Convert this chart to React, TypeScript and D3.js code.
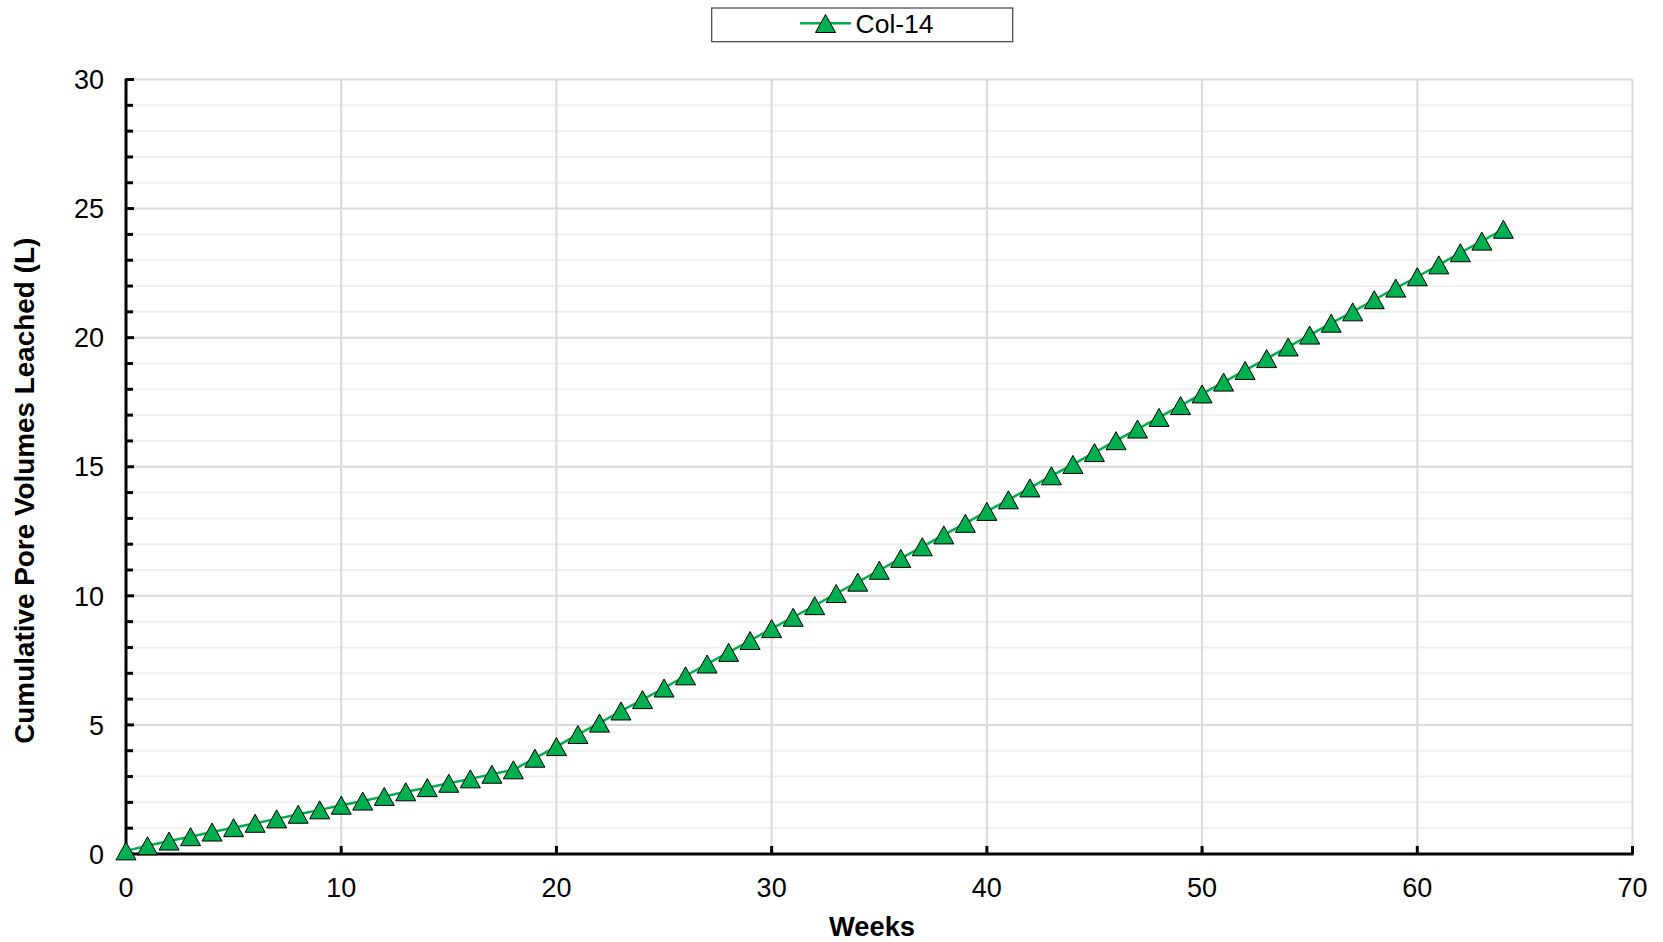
import React from "react";
import * as d3 from "d3";

const weeks: number[] = Array.from({ length: 65 }, (_, i) => i);
const col14: number[] = [
  0.12, 0.32, 0.5, 0.67, 0.85, 1.02, 1.19, 1.36, 1.54, 1.71,
  1.89, 2.05, 2.23, 2.41, 2.57, 2.74, 2.91, 3.09, 3.26, 3.71,
  4.16, 4.63, 5.07, 5.54, 5.98, 6.43, 6.9, 7.36, 7.81, 8.27,
  8.73, 9.17, 9.62, 10.09, 10.53, 10.99, 11.45, 11.9, 12.36, 12.81,
  13.27, 13.72, 14.18, 14.65, 15.09, 15.55, 16.01, 16.46, 16.91, 17.37,
  17.82, 18.28, 18.73, 19.19, 19.64, 20.1, 20.56, 21.0, 21.47, 21.92,
  22.36, 22.82, 23.29, 23.74, 24.2,
];
const xTicks: number[] = [0, 10, 20, 30, 40, 50, 60, 70];
const yMajorTicks: number[] = [0, 5, 10, 15, 20, 25, 30];
const yMinorTicks: number[] = d3.range(0, 31, 1);
const seriesName = "Col-14";
const xTitle = "Weeks";
const yTitle = "Cumulative Pore Volumes Leached (L)";

const W = 1663;
const H = 942;
const GREEN = "#00B050";
const FONT = "'Liberation Sans', Arial, sans-serif";

function tri(cx: number, cy: number, w = 20, h = 18) {
  return `M${cx - w / 2},${cy + h / 2}L${cx},${cy - h / 2}L${cx + w / 2},${cy + h / 2}Z`;
}

export default function App() {
  const x = d3.scaleLinear().domain([0, 70]).range([126, 1632.5]);
  const y = d3.scaleLinear().domain([0, 30]).range([854, 79.5]);
  const pts = weeks.map((w, i) => [w, col14[i]] as [number, number]);
  const line = d3
    .line<[number, number]>()
    .x((d) => x(d[0]))
    .y((d) => y(d[1]));

  return (
    <svg
      width={W}
      height={H}
      style={{ position: "absolute", left: 0, top: 0, display: "block", background: "#fff" }}
      fontFamily={FONT}
    >
      <rect x={0} y={0} width={W} height={H} fill="#fff" />
      {/* minor horizontal gridlines */}
      {yMinorTicks
        .filter((t) => t % 5 !== 0)
        .map((t) => (
          <line key={"mn" + t} x1={x(0)} x2={x(70)} y1={y(t)} y2={y(t)} stroke="#efefef" strokeWidth={2} />
        ))}
      {/* major horizontal gridlines */}
      {yMajorTicks
        .filter((t) => t !== 0)
        .map((t) => (
          <line key={"mj" + t} x1={x(0)} x2={x(70)} y1={y(t)} y2={y(t)} stroke="#d9d9d9" strokeWidth={2} />
        ))}
      {/* vertical gridlines */}
      {xTicks
        .filter((t) => t !== 0)
        .map((t) => (
          <line key={"v" + t} x1={x(t)} x2={x(t)} y1={y(30)} y2={y(0)} stroke="#d9d9d9" strokeWidth={2} />
        ))}
      {/* axes */}
      <line x1={x(0)} x2={x(0)} y1={y(30) - 1} y2={y(0) + 1.5} stroke="#000" strokeWidth={3} />
      <line x1={x(0) - 1.5} x2={x(70) + 1} y1={y(0)} y2={y(0)} stroke="#000" strokeWidth={3} />
      {yMinorTicks.map((t) => (
        <line
          key={"yt" + t}
          x1={x(0)}
          x2={x(0) + (t % 5 === 0 ? 8 : 7)}
          y1={y(t)}
          y2={y(t)}
          stroke="#000"
          strokeWidth={3}
        />
      ))}
      {xTicks
        .filter((t) => t !== 0)
        .map((t) => (
          <line key={"xt" + t} x1={x(t)} x2={x(t)} y1={y(0)} y2={y(0) - 8} stroke="#000" strokeWidth={3} />
        ))}
      {/* tick labels */}
      {yMajorTicks.map((t) => (
        <text key={"yl" + t} x={104} y={y(t)} dy="0.36em" textAnchor="end" fontSize={27} fill="#000">
          {t}
        </text>
      ))}
      {xTicks.map((t) => (
        <text key={"xl" + t} x={x(t)} y={897} textAnchor="middle" fontSize={27} fill="#000">
          {t}
        </text>
      ))}
      {/* titles */}
      <text
        x={872}
        y={935.7}
        textAnchor="middle"
        fontSize={27.5}
        fontWeight="bold"
        textLength={86}
        lengthAdjust="spacingAndGlyphs"
      >
        {xTitle}
      </text>
      <text
        transform={`translate(34,490.8) rotate(-90)`}
        textAnchor="middle"
        fontSize={27.5}
        fontWeight="bold"
        textLength={506}
        lengthAdjust="spacingAndGlyphs"
      >
        {yTitle}
      </text>
      {/* series */}
      <path d={line(pts) || ""} fill="none" stroke={GREEN} strokeWidth={2.5} />
      {pts.map((d, i) => (
        <path key={"m" + i} d={tri(x(d[0]), y(d[1]))} fill={GREEN} stroke="#000" strokeWidth={1} strokeLinejoin="miter" />
      ))}
      {/* legend */}
      <rect x={711.7} y={8} width={301} height={33.7} fill="#fff" stroke="#404040" strokeWidth={1.2} />
      <line x1={800} x2={851} y1={23.3} y2={23.3} stroke={GREEN} strokeWidth={2.5} />
      <path d={tri(825.5, 23.5, 20, 18)} fill={GREEN} stroke="#000" strokeWidth={1} />
      <text x={855.5} y={33.3} fontSize={26.5} fill="#000">
        {seriesName}
      </text>
    </svg>
  );
}
